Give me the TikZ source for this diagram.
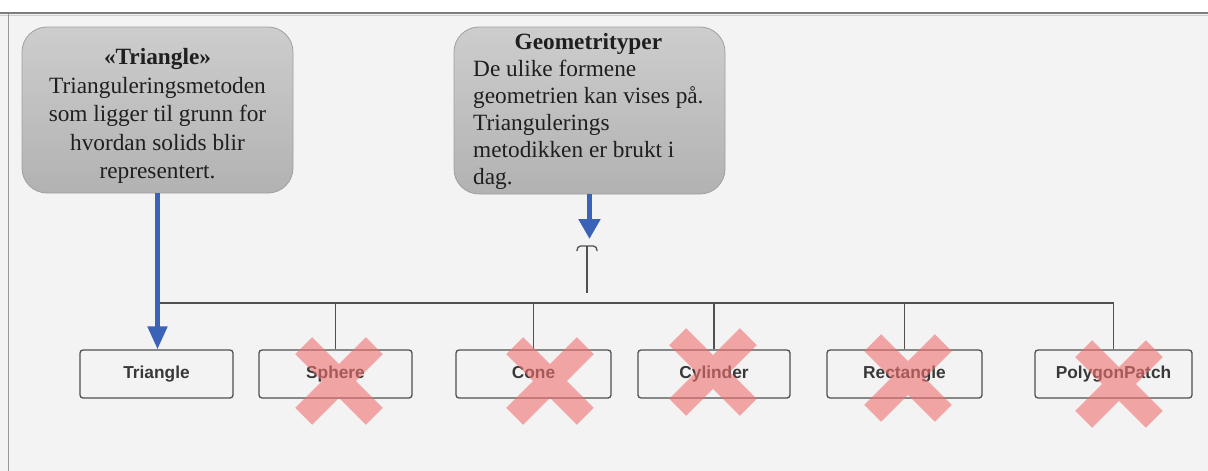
\documentclass[tikz,border=0pt]{standalone}
\usepackage{fontspec}
\setmainfont{Liberation Serif}
\newfontfamily\classfont{Liberation Sans}
\usetikzlibrary{arrows.meta}

\definecolor{paper}{HTML}{F3F3F3}
\definecolor{framegray}{HTML}{7E7E7E}
\definecolor{notetop}{HTML}{CDCDCD}
\definecolor{notebottom}{HTML}{B2B2B2}
\definecolor{noteedge}{HTML}{A0A0A0}
\definecolor{linkblue}{HTML}{3A62B6}
\definecolor{wire}{HTML}{505050}
\definecolor{classtext}{HTML}{383838}
\definecolor{crosspink}{HTML}{EE7070}

\tikzset{
  notebox/.style={draw=noteedge, line width=0.8pt, rounded corners=25pt,
    top color=notetop, bottom color=notebottom, minimum width=271pt, inner sep=0pt},
  notetext/.style={text=black!88, inner sep=0pt},
  classbox/.style={draw=wire, line width=1.3pt, rounded corners=3pt, fill=paper,
    minimum height=48pt, inner sep=0pt, text height=12.5pt, text depth=3.5pt,
    font=\classfont\bfseries\fontsize{17.3}{20}\selectfont, text=classtext},
  wireline/.style={draw=wire, line width=1.6pt},
  realize/.style={draw=linkblue, line width=5pt},
  xcross/.pic={\fill[crosspink, fill opacity=0.6, rotate=45]
    (-50,-12) rectangle (50,12) (-12,-50) rectangle (12,50);}
}

\begin{document}
\begin{tikzpicture}[x=1pt, y=-1pt]
  \useasboundingbox (0,0) rectangle (1208,471);

  % canvas and frame
  \fill[white] (0,0) rectangle (1208,13);
  \fill[paper] (0,13) rectangle (1208,471);
  \draw[framegray, line width=2pt] (0,13) -- (1208,13);
  \draw[black!20, line width=1pt] (0,15) -- (1208,15);
  \draw[black!40, line width=1pt] (8,14) -- (8,471);

  % notes
  \node[notebox, minimum height=166pt] (triNote) at (157.5,110) {};
  \node[notetext, align=center, font=\fontsize{23.3}{28.5}\selectfont] (triText) at (157.5,116)
    {\textbf{«Triangle»}\\Trianguleringsmetoden\\som ligger til grunn for\\hvordan solids blir\\representert.};

  \node[notebox, minimum height=167pt] (geoNote) at (589.5,110.5) {};
  \node[notetext, anchor=west, font=\fontsize{23.3}{27}\selectfont] (geoText) at (473,112)
    {\begin{tabular}{@{}l@{}}\multicolumn{1}{@{}c@{}}{\textbf{Geometrityper}}\\
      De ulike formene\\geometrien kan vises på.\\Triangulerings\\metodikken er brukt i\\dag.\end{tabular}};

  % classes
  \node[classbox, minimum width=153pt] (tri)    at (156.5,374) {Triangle};
  \node[classbox, minimum width=153pt] (sphere) at (335.5,374) {Sphere};
  \node[classbox, minimum width=155pt] (cone)   at (533.5,374) {Cone};
  \node[classbox, minimum width=152pt] (cyl)    at (714,374)   {Cylinder};
  \node[classbox, minimum width=155pt] (rect)   at (904.5,374) {Rectangle};
  \node[classbox, minimum width=157pt] (poly)   at (1113.5,374) {PolygonPatch};

  % generalisation bus
  \coordinate (busL) at (160,303);
  \draw[wireline] (busL) -- (poly.north |- busL);
  \foreach \n in {sphere,cone,cyl,rect,poly}
    \draw[wireline] (\n.north |- busL) -- (\n.north);

  % socket and stem under the type note
  \coordinate (socket) at (587,246);
  \coordinate (stemEnd) at (587,293);
  \draw[wireline] (socket) -- (stemEnd);
  \draw[wire, line width=1.3pt, rounded corners=1.5pt]
    (socket) ++(-10,5) -- ++(0,-2) -- ++(2,-3) -- ++(16,0) -- ++(2,3) -- ++(0,2);

  % note links
  \draw[realize, -{Triangle[length=23pt,width=19pt]}] (triNote.south) -- (triNote.south |- tri.north);
  \coordinate (geoTip) at (589.5,239);
  \draw[realize, -{Triangle[length=20pt,width=21pt]}] (geoNote.south) -- (geoTip);

  % struck-out classes
  \pic at (339,381) {xcross};
  \pic at (550,381) {xcross};
  \pic at (713,372) {xcross};
  \pic at (908,378) {xcross};
  \pic at (1119,384) {xcross};
\end{tikzpicture}
\end{document}
